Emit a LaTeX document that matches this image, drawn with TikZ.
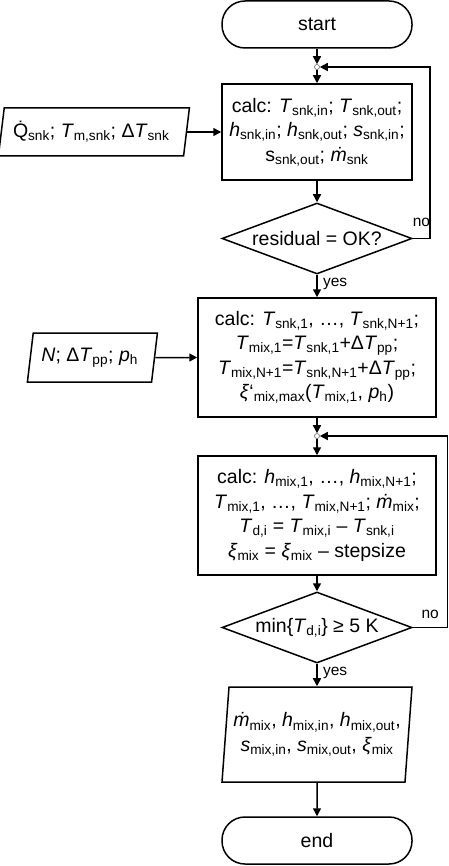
\documentclass[tikz,border=0pt]{standalone}
\usepackage{fontspec}
\setmainfont{Liberation Sans}
\usetikzlibrary{shapes.geometric, arrows.meta, positioning, calc}

\newcommand{\iv}[2]{\textit{#1}\textsubscript{#2}}

\tikzstyle{termbox} = [
    rectangle,
    rounded corners=23pt,
    minimum width=190pt,
    minimum height=47pt,
    draw=black,
    line width=1.5pt
]
\tikzstyle{calcbox} = [
    rectangle,
    minimum width=238pt,
    minimum height=119pt,
    align=center,
    inner sep=2pt,
    draw=black,
    line width=1.5pt
]
\tikzstyle{testbox} = [
    diamond,
    aspect=2.68,
    minimum width=190pt,
    minimum height=71pt,
    inner sep=0pt,
    draw=black,
    line width=1.5pt
]
\tikzstyle{iobox} = [
    trapezium,
    trapezium stretches body=true,
    align=center,
    inner sep=2pt,
    draw=black,
    line width=1.5pt
]
\tikzstyle{joint} = [
    circle,
    minimum size=5pt,
    inner sep=0pt,
    draw=black!60,
    fill=white,
    line width=0.6pt
]
\tikzstyle{flowarrow} = [
    -{Triangle[length=8pt,width=8pt]},
    line width=1.5pt,
    color=black
]

\begin{document}
\begin{tikzpicture}[x=1pt, y=-1pt, font=\fontsize{19.5}{24.5}\selectfont]

\useasboundingbox (0,0) rectangle (449,866);

% Start
\node[termbox] (start) at (317, 24.5) {start};
\node[joint] (j1) at (317, 67) {};

% Sink side
\node[calcbox, minimum width=190pt, minimum height=96pt] (calc1) at (317, 132) {
    calc: \iv{T}{snk,in}; \iv{T}{snk,out};\\
    \iv{h}{snk,in}; \iv{h}{snk,out}; \iv{s}{snk,in};\\
    s\textsubscript{snk,out}; \textit{\.{m}}\textsubscript{snk}
};
\node[iobox, trapezium left angle=77, trapezium right angle=103,
      minimum width=191pt, minimum height=48pt, left=34pt of calc1] (insnk) {
    \.{Q}\textsubscript{snk}; \iv{T}{m,snk}; Δ\iv{T}{snk}
};
\node[testbox] (test1) at (317, 238.5) {residual = OK?};
\coordinate (loop1) at (430, 67);

% Mixture side
\node[calcbox] (calc2) at (317, 357.5) {
    calc: \iv{T}{snk,1}, …, \iv{T}{snk,N+1};\\
    \iv{T}{mix,1}=\iv{T}{snk,1}+Δ\iv{T}{pp};\\
    \iv{T}{mix,N+1}=\iv{T}{snk,N+1}+Δ\iv{T}{pp};\\
    \textit{ξ}‘\textsubscript{mix,max}(\iv{T}{mix,1}, \iv{p}{h})
};
\node[iobox, trapezium left angle=76, trapezium right angle=104,
      minimum width=130pt, minimum height=49pt, left=42pt of calc2] (inmix) {
    \textit{N}; Δ\iv{T}{pp}; \iv{p}{h}
};
\node[joint] (j2) at (317, 436) {};

\node[calcbox] (calc3) at (317, 515.5) {
    calc: \iv{h}{mix,1}, …, \iv{h}{mix,N+1};\\
    \iv{T}{mix,1}, …, \iv{T}{mix,N+1}; \textit{\.{m}}\textsubscript{mix};\\
    \iv{T}{d,i} = \iv{T}{mix,i} – \iv{T}{snk,i}\\
    \iv{ξ}{mix} = \iv{ξ}{mix} – stepsize
};
\node[testbox] (test2) at (317, 627.5) {min\{\iv{T}{d,i}\} ≥ 5 K};
\coordinate (loop2) at (447.5, 436);

% Result and end
\node[iobox, trapezium left angle=81.6, trapezium right angle=98.4,
      minimum width=190pt, minimum height=95pt] (result) at (317, 734.5) {
    \textit{\.{m}}\textsubscript{mix}, \iv{h}{mix,in}, \iv{h}{mix,out},\\
    \iv{s}{mix,in}, \iv{s}{mix,out}, \iv{ξ}{mix}
};
\node[termbox] (stop) at (317, 840.5) {end};

% Connectors
\draw[flowarrow] (start) -- (j1);
\draw[flowarrow] (j1) -- (calc1);
\draw[flowarrow] (insnk) -- (calc1);
\draw[flowarrow] (calc1) -- (test1);
\draw[flowarrow] (test1.east) -| node[pos=0.25, above=8pt, font=\fontsize{15.5}{18}\selectfont] {no} (loop1) -- (j1);
\draw[flowarrow] (test1) -- node[pos=0.4, right=2pt, font=\fontsize{15.5}{18}\selectfont] {yes} (calc2);
\draw[flowarrow] (inmix) -- (calc2);
\draw[flowarrow] (calc2) -- (j2);
\draw[flowarrow] (j2) -- (calc3);
\draw[flowarrow] (calc3) -- (test2);
\draw[flowarrow] (test2.east) -| node[pos=0.25, above=5pt, font=\fontsize{15.5}{18}\selectfont] {no} (loop2) -- (j2);
\draw[flowarrow] (test2) -- node[pos=0.4, right=2pt, font=\fontsize{15.5}{18}\selectfont] {yes} (result);
\draw[flowarrow] (result) -- (stop);

\end{tikzpicture}
\end{document}
